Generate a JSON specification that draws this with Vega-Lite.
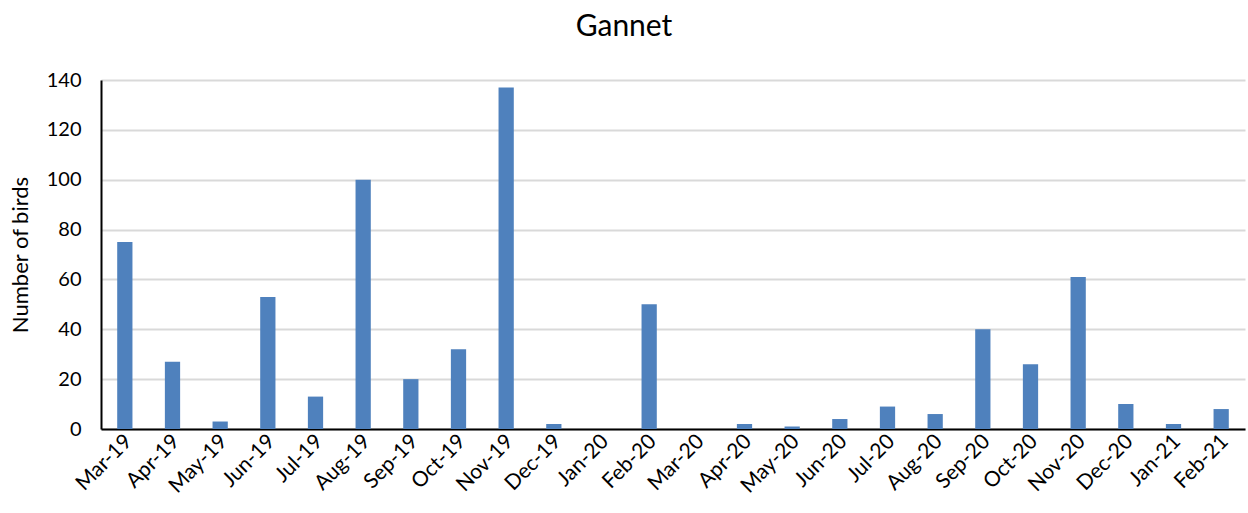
{
  "$schema": "https://vega.github.io/schema/vega-lite/v6.json",
  "autosize": "none",
  "padding": {"left": 101, "top": 80, "right": 3, "bottom": 84},
  "width": 1144,
  "height": 349,
  "background": "white",
  "title": {
    "text": "Gannet",
    "font": "Lato",
    "fontSize": 30,
    "fontWeight": "normal",
    "color": "#000000",
    "anchor": "middle",
    "dx": -49,
    "offset": 28
  },
  "data": {
    "values": [
      {"month": "Mar-19", "birds": 75},
      {"month": "Apr-19", "birds": 27},
      {"month": "May-19", "birds": 3},
      {"month": "Jun-19", "birds": 53},
      {"month": "Jul-19", "birds": 13},
      {"month": "Aug-19", "birds": 100},
      {"month": "Sep-19", "birds": 20},
      {"month": "Oct-19", "birds": 32},
      {"month": "Nov-19", "birds": 137},
      {"month": "Dec-19", "birds": 2},
      {"month": "Jan-20", "birds": 0},
      {"month": "Feb-20", "birds": 50},
      {"month": "Mar-20", "birds": 0},
      {"month": "Apr-20", "birds": 2},
      {"month": "May-20", "birds": 1},
      {"month": "Jun-20", "birds": 4},
      {"month": "Jul-20", "birds": 9},
      {"month": "Aug-20", "birds": 6},
      {"month": "Sep-20", "birds": 40},
      {"month": "Oct-20", "birds": 26},
      {"month": "Nov-20", "birds": 61},
      {"month": "Dec-20", "birds": 10},
      {"month": "Jan-21", "birds": 2},
      {"month": "Feb-21", "birds": 8}
    ]
  },
  "mark": {"type": "bar", "color": "#4f81bd"},
  "encoding": {
    "x": {
      "field": "month",
      "type": "ordinal",
      "sort": null,
      "scale": {"paddingInner": 0.68, "paddingOuter": 0.34},
      "axis": {
        "title": null,
        "labelAngle": -45,
        "labelAlign": "right",
        "labelBaseline": "middle",
        "labelFont": "Lato",
        "labelFontSize": 21,
        "labelColor": "#000000",
        "labelPadding": 9,
        "labelOffset": 4,
        "ticks": false,
        "domainColor": "#000000",
        "domainWidth": 2,
        "grid": false
      }
    },
    "y": {
      "field": "birds",
      "type": "quantitative",
      "scale": {"domain": [0, 140]},
      "axis": {
        "title": "Number of birds",
        "titleFont": "Lato",
        "titleFontSize": 22,
        "titleFontWeight": "normal",
        "titleColor": "#000000",
        "titlePadding": 14,
        "values": [0, 20, 40, 60, 80, 100, 120, 140],
        "labelFont": "Lato",
        "labelFontSize": 20,
        "labelColor": "#000000",
        "labelPadding": 20,
        "ticks": false,
        "domainColor": "#000000",
        "domainWidth": 2,
        "gridColor": "#d9d9d9",
        "gridWidth": 2
      }
    }
  },
  "config": {"view": {"stroke": null}}
}
